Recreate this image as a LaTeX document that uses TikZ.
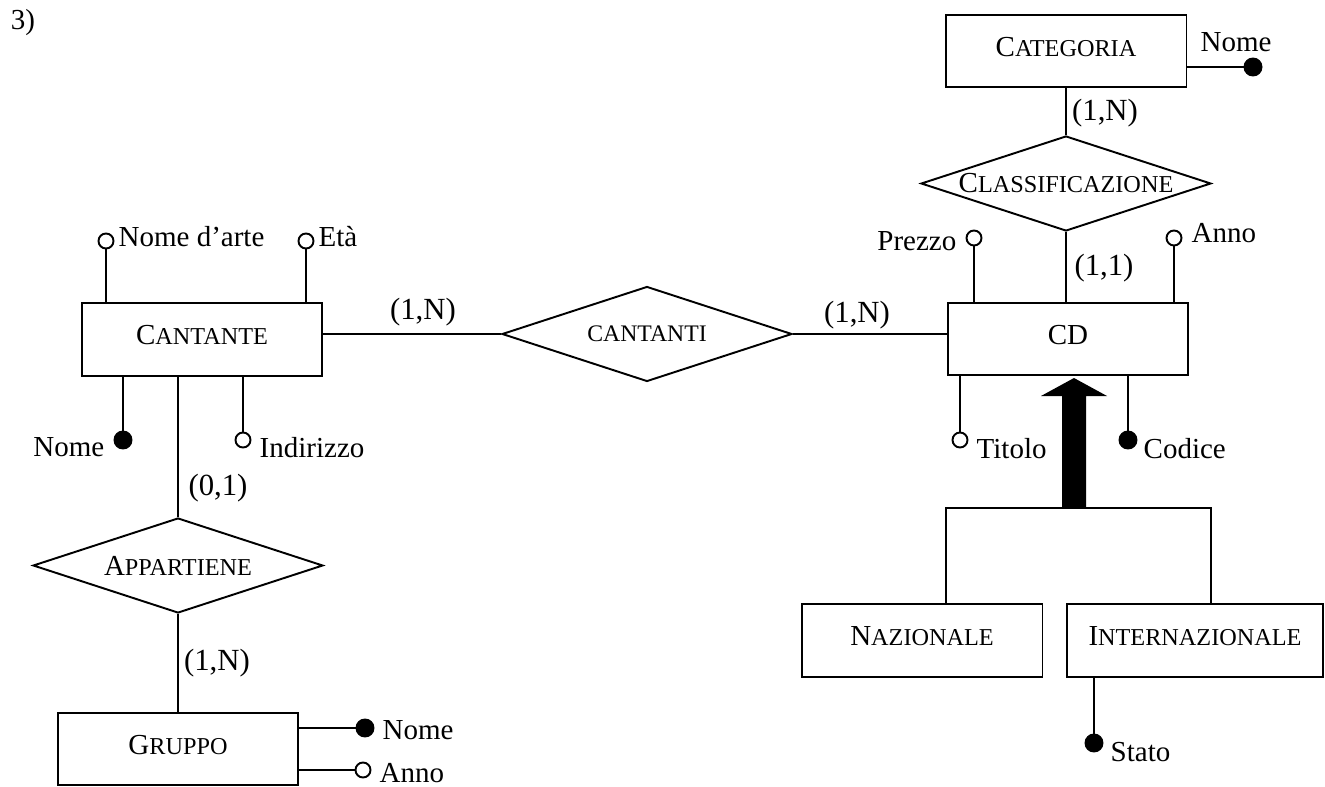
\documentclass[tikz,border=0pt]{standalone}
\usepackage{fontspec}
\setmainfont{Liberation Serif}
\usepackage{tikz}
\usetikzlibrary{positioning, shapes.geometric}

\newcommand{\fakesc}[2]{#1{\fontsize{13.8}{16}\selectfont #2}}

\begin{document}
\begin{tikzpicture}[x=0.02cm, y=-0.02cm, line width=1.1pt,
  every node/.style={font=\fontsize{16.5}{19}\selectfont},
  entity node/.style={draw, rectangle, minimum width=4.8cm, minimum height=1.45cm, inner sep=0pt,
    text height=12pt, text depth=6pt},
  rel node/.style={draw, diamond, aspect=3, minimum width=5.8cm, minimum height=1.9cm, inner sep=0pt},
  key node/.style={draw, circle, fill=black, inner sep=0pt, minimum size=0.34cm},
  attr node/.style={draw, circle, fill=white, inner sep=0pt, minimum size=0.3cm},
  label node/.style={inner sep=1pt},
  card node/.style={inner sep=1pt, font=\fontsize{17.5}{20}\selectfont}]

\useasboundingbox (0,0) rectangle (1325,787);

\node[label node] (num) at (23,23) {3)};

\node[entity node] (cantante) at (202,339.5) {\fakesc{C}{ANTANTE}};
\node[entity node] (cd) at (1068,339) {CD};
\node[entity node, minimum width=4.82cm] (categoria) at (1066,51) {\fakesc{C}{ATEGORIA}};
\node[entity node] (gruppo) at (178,749) {\fakesc{G}{RUPPO}};
\node[entity node, minimum width=4.82cm] (nazionale) at (922,640.5) {\fakesc{N}{AZIONALE}};
\node[entity node, minimum width=5.12cm] (internazionale) at (1195,640.5) {\fakesc{I}{NTERNAZIONALE}};

\node[rel node] (cantanti) at (647,334) {{\fontsize{13.5}{16}\selectfont CANTANTI}};
\node[rel node] (classif) at (1066,183.5) {\fakesc{C}{LASSIFICAZIONE}};
\node[rel node] (appartiene) at (178,565.5) {\fakesc{A}{PPARTIENE}};

\draw (cantanti.west -| cantante.east) -- (cantanti.west);
\draw (cantanti.east) -- (cantanti.east -| cd.west);
\draw (categoria.south -| classif.north) -- (classif.north);
\draw (classif.south) -- (classif.south |- cd.north);
\draw (cantante.south -| appartiene.north) -- (appartiene.north);
\draw (appartiene.south) -- (appartiene.south |- gruppo.north);

\node[card node] (c1) at (423,312) {(1,N)};
\node[card node] (c2) at (857,315) {(1,N)};
\node[card node] (c3) at (1105,113) {(1,N)};
\node[card node] (c4) at (1104,268) {(1,1)};
\node[card node] (c5) at (218,488) {(0,1)};
\node[card node] (c6) at (217,663) {(1,N)};

\node[attr node] (arte) at (106,241) {};
\node[label node, anchor=west] (artel) at (116,237) {Nome d’arte};
\node[attr node] (eta) at (306,241) {};
\node[label node, anchor=west] (etal) at (316,237) {Età};
\node[key node] (nomec) at (123,440) {};
\node[label node, anchor=east] (nomecl) at (107,447) {Nome};
\node[attr node] (indir) at (243,440) {};
\node[label node, anchor=west] (indirl) at (257,448) {Indirizzo};

\draw (arte) -- (arte |- cantante.north);
\draw (eta) -- (eta |- cantante.north);
\draw (nomec) -- (nomec |- cantante.south);
\draw (indir) -- (indir |- cantante.south);

\node[attr node] (prezzo) at (974,238) {};
\node[label node, anchor=east] (prezzol) at (959,241) {Prezzo};
\node[attr node] (anno) at (1174,238) {};
\node[label node, anchor=west] (annol) at (1189,233) {Anno};
\node[attr node] (titolo) at (960,440) {};
\node[label node, anchor=west] (titolol) at (974,449) {Titolo};
\node[key node] (codice) at (1128,440) {};
\node[label node, anchor=west] (codicel) at (1141,449) {Codice};

\draw (prezzo) -- (prezzo |- cd.north);
\draw (anno) -- (anno |- cd.north);
\draw (titolo) -- (titolo |- cd.south);
\draw (codice) -- (codice |- cd.south);

\node[key node] (nomek) at (1253,67) {};
\node[label node] (nomekl) at (1236,42) {Nome};
\draw (nomek) -- (nomek -| categoria.east);

\node[key node] (nomeg) at (365,728) {};
\node[label node, anchor=west] (nomegl) at (380,730) {Nome};
\node[attr node] (annog) at (363,770) {};
\node[label node, anchor=west] (annogl) at (377,773) {Anno};
\draw (nomeg) -- (nomeg -| gruppo.east);
\draw (annog) -- (annog -| gruppo.east);

\node[key node] (stato) at (1094,743) {};
\node[label node, anchor=west] (statol) at (1108,752) {Stato};
\draw (stato) -- (stato |- internazionale.south);

\coordinate (isa) at (1074,508);
\draw ([xshift=0.48cm]nazionale.north) |- (isa) -| ([xshift=0.32cm]internazionale.north);
\fill (isa) ++(-12,0) -- ++(0,-112) -- ++(-21,0) -- ++(33,-18) -- ++(33,18) -- ++(-21,0) -- ++(0,112) -- cycle;

\end{tikzpicture}
\end{document}
